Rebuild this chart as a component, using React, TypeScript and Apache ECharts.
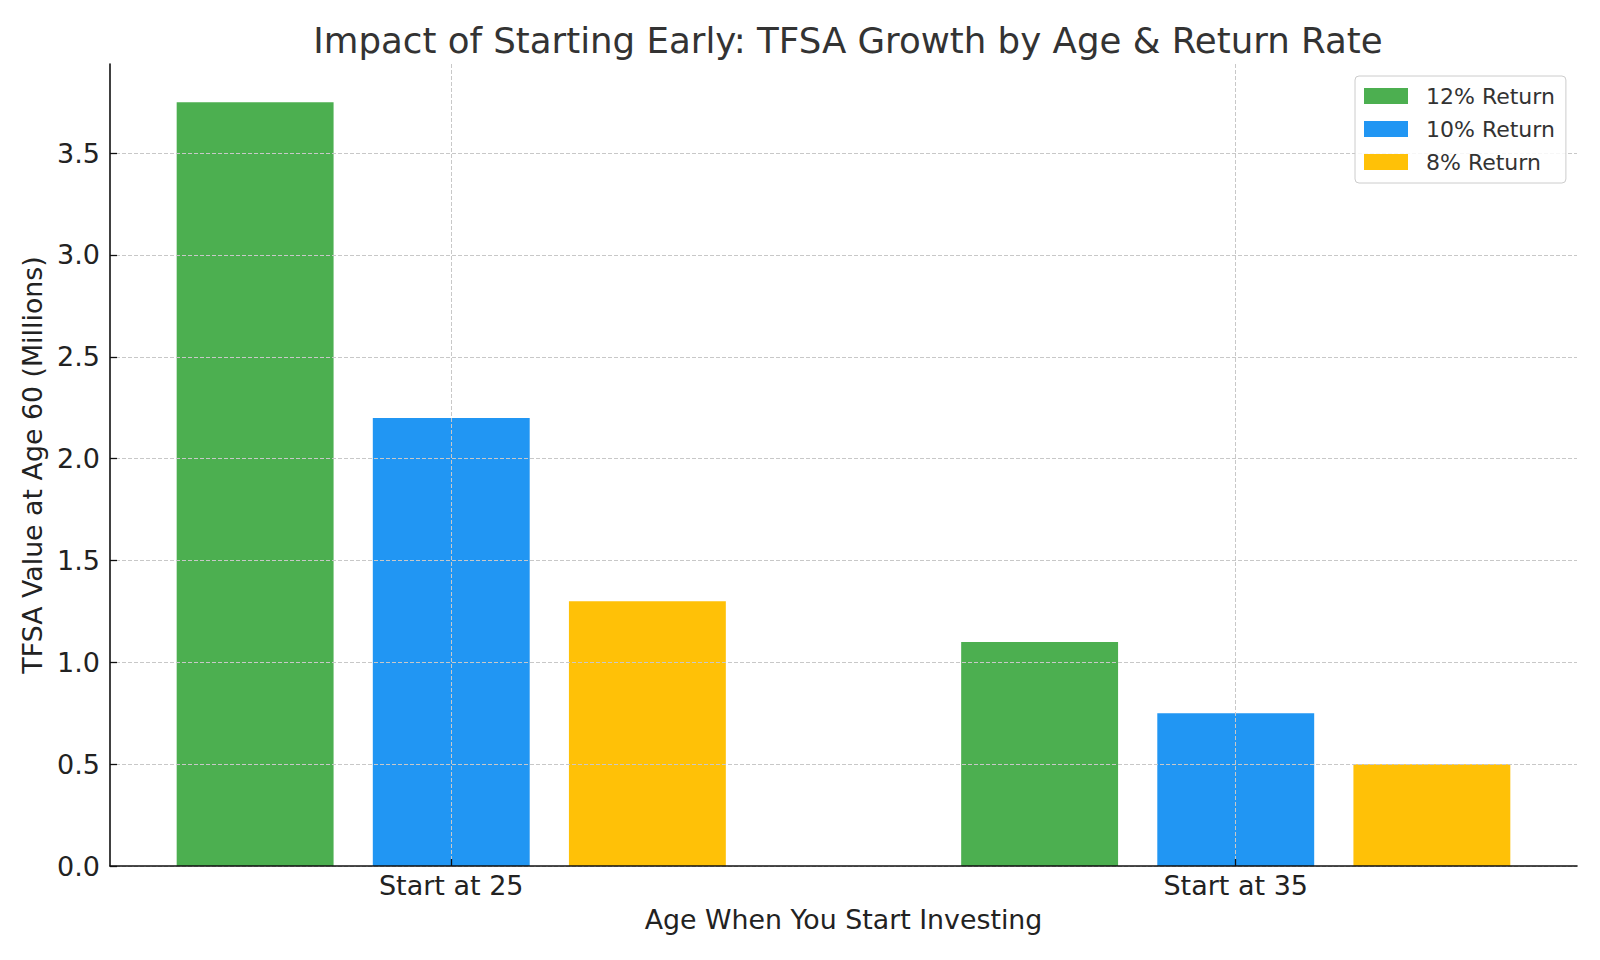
import { useEffect, useRef } from "react";
import * as echarts from "echarts";

const categories = ["Start at 25", "Start at 35"];
const seriesNames = ["12% Return", "10% Return", "8% Return"];
const return12 = [3.75, 1.1];
const return10 = [2.2, 0.75];
const return8 = [1.3, 0.5];
const yTicks = [0, 0.5, 1, 1.5, 2, 2.5, 3, 3.5];

const colors = ["#4CAF50", "#2196F3", "#FFC107"];
const BAR_WIDTH = 0.2;
const OFFSETS = [-0.25, 0, 0.25];
const FONT = "DejaVu Sans";

export default function App() {
  const chartRef = useRef<HTMLDivElement>(null);

  useEffect(() => {
    document.body.style.margin = "0";
    if (!chartRef.current) return;
    const chart = echarts.init(chartRef.current, null, { renderer: "svg" });

    const values = [return12, return10, return8];
    const series = seriesNames.map((name, si) => ({
      name,
      type: "custom",
      itemStyle: { color: colors[si] },
      z: 2,
      data: values[si].map((v, ci) => [ci, v]),
      renderItem: (params: any, api: any) => {
        const center = api.value(0) + OFFSETS[si];
        const p0 = api.coord([center - BAR_WIDTH / 2, api.value(1)]);
        const p1 = api.coord([center + BAR_WIDTH / 2, 0]);
        return {
          type: "rect",
          shape: { x: p0[0], y: p0[1], width: p1[0] - p0[0], height: p1[1] - p0[1] },
          style: { fill: colors[si] }
        };
      }
    }));

    const gridLine = { show: true, lineStyle: { color: "#c8c8c8", type: [4, 2], width: 1 } };

    chart.setOption({
      animation: false,
      textStyle: { fontFamily: FONT },
      title: {
        text: "Impact of Starting Early: TFSA Growth by Age & Return Rate",
        left: 843,
        top: 17,
        textAlign: "center",
        textStyle: { fontFamily: FONT, fontSize: 35.6, fontWeight: "normal", color: "#333" }
      },
      legend: {
        orient: "vertical",
        left: 1355,
        top: 76,
        padding: [8, 11, 9, 9],
        itemWidth: 44,
        itemHeight: 16,
        itemGap: 9,
        borderColor: "#cccccc",
        borderWidth: 1,
        borderRadius: 4,
        backgroundColor: "rgba(255,255,255,0.85)",
        data: seriesNames.map((name, i) => ({ name, icon: "rect", itemStyle: { color: colors[i] } })),
        textStyle: { fontFamily: FONT, fontSize: 22, color: "#333", lineHeight: 24, padding: [0, 0, 0, 13] }
      },
      grid: { left: 110, right: 23, top: 64, bottom: 94 },
      xAxis: {
        type: "value",
        min: -0.435,
        max: 1.435,
        z: 3,
        name: "Age When You Start Investing",
        nameLocation: "middle",
        nameGap: 40,
        nameTextStyle: { fontFamily: FONT, fontSize: 26.8, color: "#222" },
        axisLine: { show: true, onZero: false, lineStyle: { color: "#111", width: 1.6 } },
        axisTick: { show: true, inside: true, length: 7, customValues: [0, 1], lineStyle: { color: "#111", width: 1.3 } },
        axisLabel: {
          customValues: [0, 1],
          formatter: (v: number) => categories[Math.round(v)] ?? "",
          fontFamily: FONT,
          fontSize: 27,
          color: "#222",
          margin: 6
        },
        splitLine: gridLine
      },
      yAxis: {
        type: "value",
        min: 0,
        max: 3.9375,
        z: 3,
        name: "TFSA Value at Age 60 (Millions)",
        nameLocation: "middle",
        nameGap: 63,
        nameTextStyle: { fontFamily: FONT, fontSize: 26.8, color: "#222" },
        axisLine: { show: true, onZero: false, lineStyle: { color: "#111", width: 1.6 } },
        axisTick: { show: true, inside: true, length: 7, customValues: yTicks, lineStyle: { color: "#111", width: 1.3 } },
        axisLabel: {
          customValues: yTicks,
          formatter: (v: number) => v.toFixed(1),
          fontFamily: FONT,
          fontSize: 27,
          color: "#222",
          margin: 10
        },
        splitLine: gridLine
      },
      series
    });

    return () => {
      chart.dispose();
    };
  }, []);

  return <div ref={chartRef} style={{ width: "1600px", height: "960px" }} />;
}
